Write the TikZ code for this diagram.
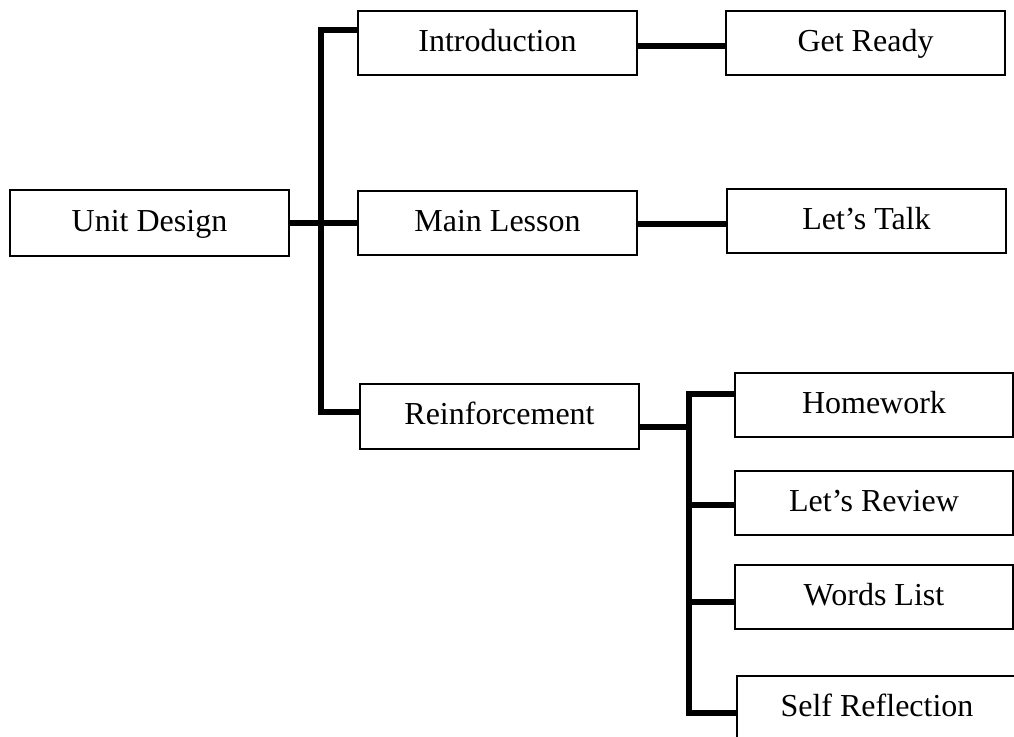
\documentclass[tikz,border=0pt]{standalone}
\usepackage{fontspec}
\setmainfont{Liberation Serif}

\tikzset{
 box/.style={draw, line width=1.5pt, minimum width=209.25pt, minimum height=48pt, inner sep=0pt,
  font=\fontsize{24}{28}\selectfont, text height=17pt, text depth=5pt},
 link/.style={line width=4.2pt, line join=miter}
}

\begin{document}
\begin{tikzpicture}[x=0.75pt, y=-0.75pt]
 \useasboundingbox (0,0) rectangle (1014,736); %枠
 \node[box, minimum height=49.5pt] (unit) at (149.5,223) {Unit Design}; %根
 \node[box] (intro) at (497.5,43) {Introduction}; %第1段
 \node[box] (main) at (497.5,223) {Main Lesson};
 \node[box, minimum height=48.75pt] (reinf) at (499.5,416.5) {Reinforcement};
 \node[box] (ready) at (865.5,43) {Get Ready}; %第2段
 \node[box] (talk) at (866.5,221) {Let’s Talk};
 \node[box, minimum width=208.5pt] (homework) at (874,405) {Homework};
 \node[box, minimum width=208.5pt] (review) at (874,503) {Let’s Review};
 \node[box, minimum width=208.5pt] (words) at (874,597) {Words List};
 \node[box, minimum width=210pt] (self) at (877,708) {Self Reflection};
 \coordinate (b1) at (321,30); %幹線上端
 \coordinate (b2) at (321,412); %幹線下端
 \coordinate (s1) at (689,394); %支線上端
 \coordinate (s2) at (689,713); %支線下端
 \coordinate (r0) at (689,427); %支線入口
 \draw[link] (intro.west |- b1) -- (b1) -- (b2) -- (reinf.west |- b2); %幹線
 \draw[link] (unit.east) -- (main.west);
 \draw[link] ([yshift=-2.3pt]intro.east) -- ([yshift=-2.3pt]intro.east -| ready.west);
 \draw[link] ([yshift=-0.8pt]main.east) -- ([yshift=-0.8pt]main.east -| talk.west);
 \draw[link] (reinf.east |- r0) -- (r0);
 \draw[link] (homework.west |- s1) -- (s1) -- (s2) -- (self.west |- s2); %支線
 \draw[link] (review.west |- 0,505) -- (s1 |- 0,505);
 \draw[link] (words.west |- 0,602) -- (s1 |- 0,602);
\end{tikzpicture}
\end{document}
